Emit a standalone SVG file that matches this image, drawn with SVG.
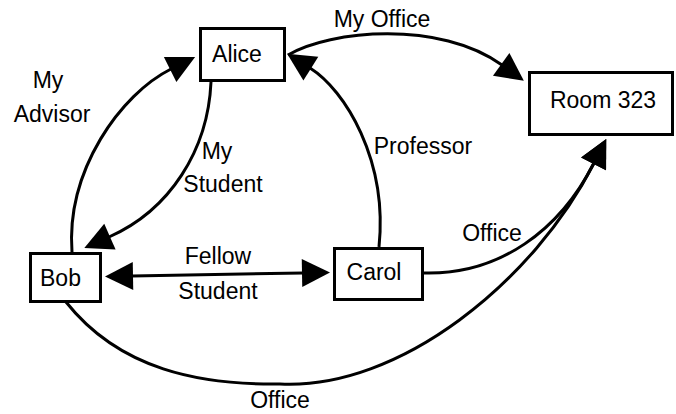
<svg xmlns="http://www.w3.org/2000/svg" width="676" height="414" viewBox="0 0 676 414">
<style>
.box{fill:#fff;stroke:#000;stroke-width:3}
.lbl{font-family:"Liberation Sans",Arial,sans-serif;font-size:23px;fill:#000;text-anchor:middle}
.edge{fill:none;stroke:#000;stroke-width:3}
</style>
<defs>
<marker id="ah" markerUnits="userSpaceOnUse" markerWidth="30" markerHeight="30" viewBox="0 0 30 30" refX="1" refY="14" orient="auto-start-reverse" overflow="visible">
<path d="M0,0 L28,14 L0,28 z" fill="#000"/>
</marker>
</defs>
<rect width="676" height="414" fill="#fff"/>
<g id="edges">
<path class="edge" d="M72,252 C66,170 121,94 171,69" marker-end="url(#ah)"/>
<path class="edge" d="M211,82 C208,150 170,210 109,237" marker-end="url(#ah)"/>
<path class="edge" d="M379,247 C388,160 345,90 310,68" marker-end="url(#ah)"/>
<path class="edge" d="M288,55 C330,30 440,20 502,65" marker-end="url(#ah)"/>
<path class="edge" d="M132,276 L303,273" marker-start="url(#ah)" marker-end="url(#ah)"/>
<path class="edge" d="M424,273 C500,275 560,230 594,163" marker-end="url(#ah)"/>
<path class="edge" d="M66,302 C120,370 200,385 280,384 C400,390 534,281 594,163" marker-end="url(#ah)"/>
</g>
<g id="edge-labels">
<text class="lbl" x="48" y="88">My</text>
<text class="lbl" x="52" y="122">Advisor</text>
<text class="lbl" x="217" y="159">My</text>
<text class="lbl" x="223" y="192">Student</text>
<text class="lbl" x="423" y="154">Professor</text>
<text class="lbl" x="382" y="27">My Office</text>
<text class="lbl" x="218" y="264">Fellow</text>
<text class="lbl" x="218" y="299">Student</text>
<text class="lbl" x="492" y="241">Office</text>
<text class="lbl" x="280" y="408">Office</text>
</g>
<g id="alice"><rect class="box" x="200.5" y="28.5" width="84" height="52"/><text class="lbl" x="237" y="62">Alice</text></g>
<g id="room323"><rect class="box" x="529.5" y="72.5" width="143" height="62"/><text class="lbl" x="603" y="108">Room 323</text></g>
<g id="bob"><rect class="box" x="30.5" y="253.5" width="70" height="48"/><text class="lbl" x="60.5" y="286">Bob</text></g>
<g id="carol"><rect class="box" x="334.5" y="248.5" width="88" height="51"/><text class="lbl" x="374" y="280">Carol</text></g>
</svg>
